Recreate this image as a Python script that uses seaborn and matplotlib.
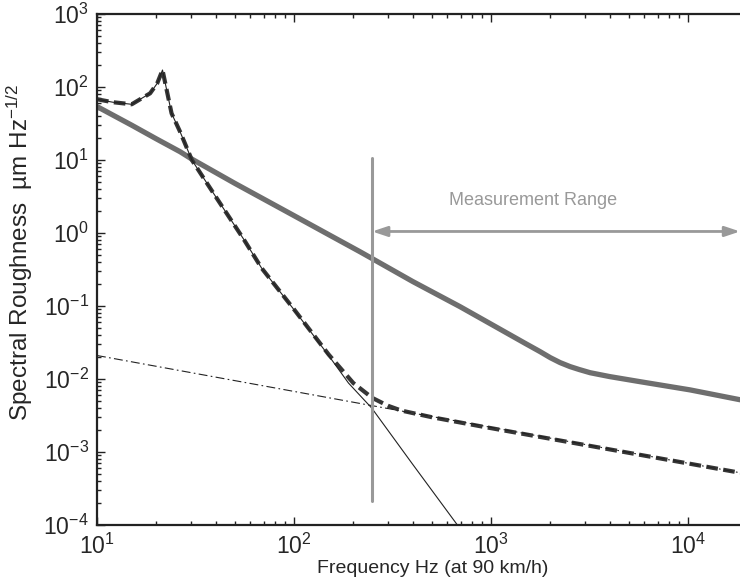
import matplotlib
matplotlib.use("Agg")
import matplotlib.pyplot as plt
import seaborn as sns
import pandas as pd

# measured roughness spectrum (thick grey)
rough_f = [10, 15, 20, 26.4, 30.3, 50, 100, 150, 216, 248, 400, 696, 1000,
           1500, 1775, 2000, 2240, 2518, 2800, 3184, 4000, 5700, 10230, 18370]
rough_v = [54, 30, 19.5, 13.0, 10.3, 4.8, 1.73, 0.95, 0.555, 0.45, 0.217, 0.098,
           0.0565, 0.0305, 0.0237, 0.0196, 0.0168, 0.0148, 0.0135, 0.0122,
           0.0108, 0.0092, 0.0071, 0.0052]

# resonance component (thin solid)
reson_f = [10, 12, 15, 18.6, 20.2, 21.5, 23.9, 26.4, 30.3, 40, 55.4, 68.5,
           100, 150, 189, 248, 400, 675]
reson_v = [68, 62, 58, 82, 112, 171, 43.6, 24.4, 10, 3.16, 0.83, 0.33,
           0.089, 0.0209, 0.0088, 0.004, 6.8e-4, 1e-4]

# noise floor (thin dash-dot)
floor_f = [10, 18370]
floor_v = [0.021, 0.00052]

# total (thick dashed)
total_f = [10, 12, 15, 18.6, 20.2, 21.5, 23.9, 26.4, 30.3, 40, 55.4, 68.5,
           100, 150, 200, 250, 300, 350, 500, 879, 18370]
total_v = [68, 62, 58, 82, 112, 171, 43.6, 24.4, 10, 3.16, 0.83, 0.33,
           0.09, 0.0216, 0.0088, 0.0055, 0.0043, 0.0037, 0.003, 0.00226, 0.00052]

# measurement range marker
range_lo = 249
range_hi = 18370
vline_y = [2.1e-4, 10.5]

sns.set_style("ticks")
plt.rcParams["font.family"] = ["Liberation Sans", "DejaVu Sans"]
plt.rcParams["mathtext.fontset"] = "custom"
plt.rcParams["mathtext.rm"] = "Liberation Sans"
plt.rcParams["mathtext.it"] = "Liberation Sans:italic"

fig = plt.figure(figsize=(7.4, 5.87), dpi=100)
ax = fig.add_axes([0.1311, 0.1056, 0.869, 0.8705])

rough = pd.DataFrame({"f": rough_f, "v": rough_v})
reson = pd.DataFrame({"f": reson_f, "v": reson_v})
floor = pd.DataFrame({"f": floor_f, "v": floor_v})
total = pd.DataFrame({"f": total_f, "v": total_v})

sns.lineplot(data=rough, x="f", y="v", ax=ax, color="#6e6e6e", lw=3.8,
             estimator=None, sort=False)
sns.lineplot(data=total, x="f", y="v", ax=ax, color="#363636", lw=3.0,
             estimator=None, sort=False)
ax.lines[-1].set_dashes((2.8, 1.3))
sns.lineplot(data=reson, x="f", y="v", ax=ax, color="#222222", lw=0.8,
             estimator=None, sort=False)
sns.lineplot(data=floor, x="f", y="v", ax=ax, color="#222222", lw=0.8,
             estimator=None, sort=False)
ax.lines[-1].set_dashes((8, 3, 1.5, 3))

# measurement range
ax.plot([range_lo, range_lo], vline_y, color="#999999", lw=2.2)
ax.annotate("", xy=(range_hi, 1.05), xytext=(range_lo, 1.05),
            arrowprops=dict(arrowstyle="<|-|>,head_length=0.9,head_width=0.3",
                            color="#999999", lw=2.0, shrinkA=0, shrinkB=0))
ax.text(1630, 2.83, "Measurement Range", color="#999999", fontsize=13,
        ha="center", va="center")

ax.set_xscale("log")
ax.set_yscale("log")
ax.set_xlim(10, 18370)
ax.set_ylim(1e-4, 1e3)

ax.set_xlabel("Frequency Hz (at 90 km/h)", fontsize=14)
ax.xaxis.set_label_coords(0.522, -0.068)
ax.set_ylabel(r"Spectral Roughness  µm Hz$^{-1/2}$", fontsize=17.5)
ax.yaxis.set_label_coords(-0.097, 0.534)

ax.tick_params(which="both", direction="in", top=True, right=False,
               labelsize=16.5, color="#222222", width=1.0)
ax.tick_params(which="major", length=6, pad=6)
ax.tick_params(which="minor", length=3)
ax.spines["right"].set_visible(False)
for s in ["left", "bottom", "top"]:
    ax.spines[s].set_linewidth(1.6)
    ax.spines[s].set_color("#222222")

fig.savefig("out.png", dpi=100)
